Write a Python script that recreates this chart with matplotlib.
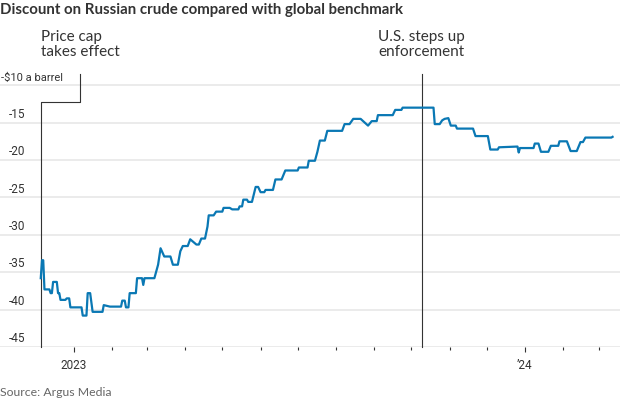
import matplotlib
matplotlib.use("Agg")
import matplotlib.pyplot as plt
import matplotlib.transforms as mtransforms
import pandas as pd

# Discount of Urals vs Brent, $ a barrel
dates = [
    "2022-12-05", "2022-12-06", "2022-12-07", "2022-12-08", "2022-12-12", "2022-12-13",
    "2022-12-14", "2022-12-15", "2022-12-18", "2022-12-19", "2022-12-20", "2022-12-21",
    "2022-12-25", "2022-12-26", "2022-12-28", "2022-12-29", "2023-01-07", "2023-01-08",
    "2023-01-11", "2023-01-12", "2023-01-14", "2023-01-16", "2023-01-24", "2023-01-25",
    "2023-01-30", "2023-02-08", "2023-02-09", "2023-02-11", "2023-02-12", "2023-02-14",
    "2023-02-15", "2023-02-20", "2023-02-21", "2023-02-25", "2023-02-26", "2023-02-27",
    "2023-03-07", "2023-03-10", "2023-03-12", "2023-03-15", "2023-03-20", "2023-03-22",
    "2023-03-26", "2023-03-28", "2023-03-30", "2023-04-03", "2023-04-05", "2023-04-10",
    "2023-04-12", "2023-04-14", "2023-04-17", "2023-04-19", "2023-04-20", "2023-04-24",
    "2023-04-26", "2023-05-01", "2023-05-02", "2023-05-07", "2023-05-09", "2023-05-14",
    "2023-05-15", "2023-05-17", "2023-05-18", "2023-05-21", "2023-05-22", "2023-05-25",
    "2023-05-28", "2023-05-30", "2023-06-01", "2023-06-04", "2023-06-05", "2023-06-11",
    "2023-06-13", "2023-06-18", "2023-06-21", "2023-07-01", "2023-07-02", "2023-07-09",
    "2023-07-10", "2023-07-15", "2023-07-17", "2023-07-19", "2023-07-23", "2023-07-25",
    "2023-08-06", "2023-08-08", "2023-08-12", "2023-08-15", "2023-08-21", "2023-08-27",
    "2023-08-30", "2023-09-03", "2023-09-04", "2023-09-16", "2023-09-18", "2023-09-23",
    "2023-09-24", "2023-10-19", "2023-10-20", "2023-10-24", "2023-10-26", "2023-10-28",
    "2023-10-31", "2023-11-02", "2023-11-06", "2023-11-07", "2023-11-20", "2023-11-22",
    "2023-12-02", "2023-12-04", "2023-12-10", "2023-12-11", "2023-12-26", "2023-12-27",
    "2023-12-28", "2024-01-08", "2024-01-09", "2024-01-12", "2024-01-14", "2024-01-20",
    "2024-01-22", "2024-01-28", "2024-01-29", "2024-02-04", "2024-02-07", "2024-02-12",
    "2024-02-15", "2024-02-17", "2024-02-19", "2024-03-11", "2024-03-12",
]
discount = [
    -35.8, -33.4, -33.4, -37.3, -37.3, -37.8,
    -37.8, -36.3, -36.3, -37.8, -37.8, -38.7,
    -38.7, -38.5, -38.5, -39.7, -39.7, -40.8,
    -40.8, -37.8, -37.8, -40.3, -40.3, -39.4,
    -39.6, -39.6, -38.8, -38.8, -39.7, -39.7,
    -37.8, -37.8, -35.8, -35.8, -36.7, -35.8,
    -35.8, -34.0, -31.8, -32.9, -32.9, -34.0,
    -34.0, -32.2, -31.5, -31.5, -30.6, -31.3,
    -31.3, -30.5, -30.5, -28.9, -27.4, -27.4,
    -26.9, -26.9, -26.4, -26.4, -26.6, -26.6,
    -26.2, -26.2, -25.3, -25.3, -25.6, -25.6,
    -23.6, -23.6, -24.3, -24.3, -24.0, -24.0,
    -22.6, -22.6, -21.4, -21.4, -21.0, -21.0,
    -20.1, -20.1, -18.9, -17.4, -17.4, -16.1,
    -16.1, -15.2, -15.2, -14.5, -14.5, -15.4,
    -14.8, -14.8, -14.0, -14.0, -13.3, -13.3,
    -13.0, -13.0, -15.2, -15.2, -14.7, -14.5,
    -14.4, -15.4, -15.4, -15.8, -15.8, -16.8,
    -16.8, -18.6, -18.6, -18.3, -18.2, -19.0,
    -18.4, -18.4, -17.8, -17.8, -18.9, -18.9,
    -18.1, -18.1, -17.5, -17.5, -18.8, -18.8,
    -17.6, -17.6, -17.0, -17.0, -16.9,
]

y_ticks = [-10, -15, -20, -25, -30, -35, -40, -45]
y_labels = ["-$10 a barrel", "-15", "-20", "-25", "-30", "-35", "-40", "-45"]

events = ["2022-12-05", "2023-10-10"]
event_labels = ["Price cap\ntakes effect", "U.S. steps up\nenforcement"]

dates = pd.to_datetime(dates)
events = pd.to_datetime(events)

blue = "#0a78b4"
dark = "#333333"
grid = "#e9e9e9"
narrow = ["Roboto", "DejaVu Sans"]

fig = plt.figure(figsize=(6.2, 4), dpi=100)
ax = fig.add_axes([0, 0.1325, 1, 0.6825])
ax.set_xlim(pd.Timestamp("2022-11-02"), pd.Timestamp("2024-03-18"))
ax.set_ylim(-45, -8.5)
for s in ax.spines.values():
    s.set_visible(False)

for v in y_ticks:
    ax.axhline(v, color=grid, lw=1.3, zorder=0)

# y labels sit just above their gridlines
trans = mtransforms.blended_transform_factory(ax.transAxes, ax.transData)
for v, lab in zip(y_ticks, y_labels):
    if v == -10:
        ax.text(0.002, v + 0.25, lab, transform=trans, ha="left", va="bottom",
                fontsize=8, color=dark, family=narrow)
    else:
        ax.text(0.041, v + 0.25, lab, transform=trans, ha="right", va="bottom",
                fontsize=8.5, color=dark, family=narrow)

ax.plot(dates, discount, color=blue, lw=1.6, zorder=3, solid_joinstyle="round")

# event markers
ax.plot([events[0], events[0], pd.Timestamp("2023-01-06"), pd.Timestamp("2023-01-06")],
        [-45, -12.3, -12.3, -8.5], color=dark, lw=0.8, clip_on=False, zorder=2)
ax.plot([events[1], events[1]], [-45, -8.5], color=dark, lw=0.8, clip_on=False, zorder=2)

fig.text(0.066, 0.925, event_labels[0], ha="left", va="top", fontsize=11,
         family="Lato", color=dark, linespacing=1.1)
fig.text(0.6097, 0.925, event_labels[1], ha="left", va="top", fontsize=11,
         family="Lato", color=dark, linespacing=1.1)

ax.set_xticks([pd.Timestamp("2023-01-01"), pd.Timestamp("2024-01-01")])
ax.set_xticklabels(["2023", "\u201924"])
# monthly minor ticks, none before the first January
ax.set_xticks(pd.date_range("2023-02-01", "2024-03-01", freq="MS"), minor=True)
ax.tick_params(axis="x", which="major", length=3.6, width=0.8, color=dark,
               labelsize=8.5, labelcolor=dark, pad=5)
ax.tick_params(axis="x", which="minor", length=1.8, width=0.8, color=dark)
for lab in ax.get_xticklabels():
    lab.set_family(narrow)
ax.set_yticks([])

fig.text(0.0, 0.975, "Discount on Russian crude compared with global benchmark",
         ha="left", va="center", fontsize=10.8, fontweight="bold", family="Lato",
         color=dark)
fig.text(0.0, 0.02, "Source: Argus Media", ha="left", va="center", fontsize=8.8,
         family="Lato", color="#666666")

fig.savefig("out.png", dpi=100)
